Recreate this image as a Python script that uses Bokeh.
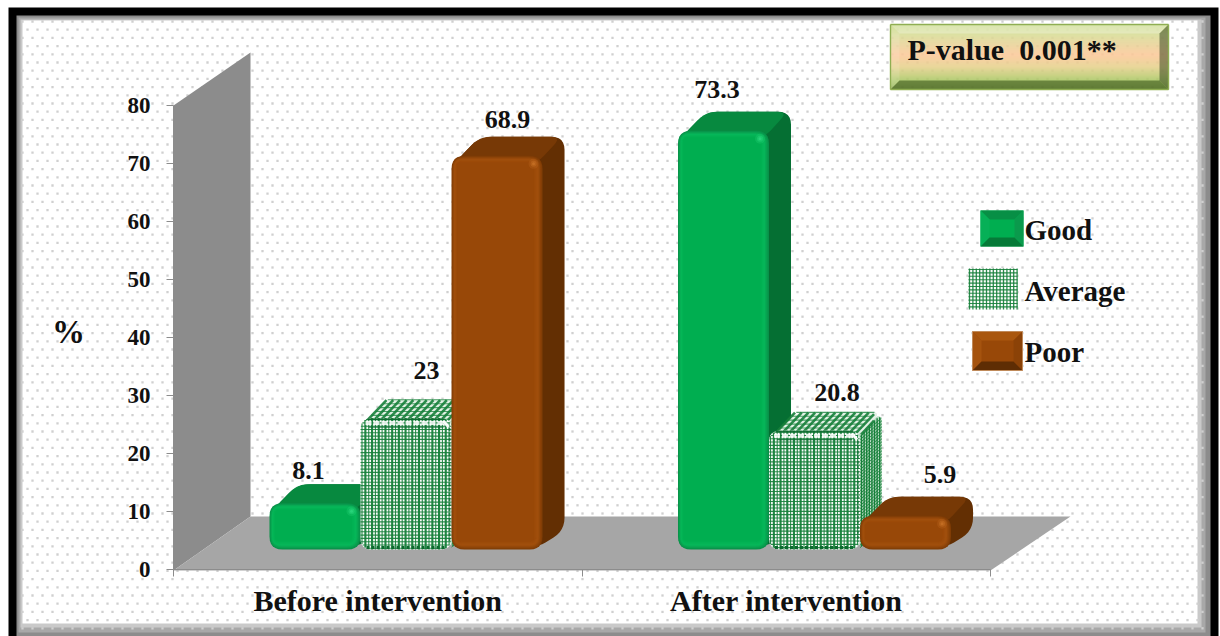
from bokeh.core.properties import value
from bokeh.embed import file_html
from bokeh.models import FixedTicker, Range1d
from bokeh.plotting import figure
from bokeh.resources import INLINE
import numpy as np

# Chart data
CATEGORIES = ["Before intervention", "After intervention"]
SERIES = ["Good", "Average", "Poor"]
GOOD = [8.1, 73.3]
AVERAGE = [23, 20.8]
POOR = [68.9, 5.9]
Y_TICKS = [0, 10, 20, 30, 40, 50, 60, 70, 80]
Y_LABEL = "%"
P_VALUE = "P-value\u00a0\u00a00.001**"

# Scale of the chart: 0 % sits on pixel row 569, each percent is 5.8 px, each category 408.5 px
W, H = 1220, 636
X0, UX = 173.0, 408.5
Y0, UY = 569.0, 5.8
FONT = value("Liberation Serif")


def X(px):
    return (np.asarray(px, dtype=float) - X0) / UX


def Y(py):
    return (Y0 - np.asarray(py, dtype=float)) / UY


def SX(x):
    return X0 + x * UX


def SY(y):
    return Y0 - y * UY


p = figure(width=W, height=H, output_backend="svg", toolbar_location=None, min_border=0,
           x_range=Range1d(float(X(0)), float(X(W))), y_range=Range1d(float(Y(H)), float(Y(0))))
p.grid.visible = False
p.outline_line_color = None
p.background_fill_color = "white"
p.border_fill_color = "white"


def poly(pts, color, alpha=1.0, line=None, lw=1.0):
    a = np.array(pts, dtype=float)
    p.patch(X(a[:, 0]), Y(a[:, 1]), fill_color=color, fill_alpha=alpha,
            line_color=line, line_width=lw)


def box(x0, y0, x1, y1, color, **kw):
    poly([(x0, y0), (x1, y0), (x1, y1), (x0, y1)], color, **kw)


def lines(segs, color, width, alpha=1.0, dash="solid"):
    if segs:
        p.multi_line([list(X([s[0], s[2]])) for s in segs], [list(Y([s[1], s[3]])) for s in segs],
                     line_color=color, line_width=width, line_alpha=alpha, line_dash=dash)


def rounded(pts, r):
    """Round each corner of a polygon with a quadratic curve."""
    a = np.array(pts, dtype=float)
    n = len(a)
    out = []
    for i in range(n):
        q, prv, nxt = a[i], a[i - 1], a[(i + 1) % n]
        d1, d2 = prv - q, nxt - q
        l1, l2 = np.hypot(*d1), np.hypot(*d2)
        rr = min(r, l1 / 2, l2 / 2)
        s, e = q + d1 / l1 * rr, q + d2 / l2 * rr
        for t in np.linspace(0, 1, 7):
            out.append((1 - t) ** 2 * s + 2 * t * (1 - t) * q + t ** 2 * e)
    return out


def mix(c1, c2, t):
    a = [int(c1[i:i + 2], 16) for i in (1, 3, 5)]
    b = [int(c2[i:i + 2], 16) for i in (1, 3, 5)]
    return "#%02x%02x%02x" % tuple(round(u + (v - u) * t) for u, v in zip(a, b))


def rrect(x0, y0, x1, y1, r):
    return rounded([(x0, y0), (x1, y0), (x1, y1), (x0, y1)], r)


# Picture frame and dotted panel
box(8, 7, 1218, 636, "#000000")
box(16, 15, 1210, 636, "#8c8c8c")
box(18, 17, 1205, 632, "#a8a8a8")
box(20, 19, 1201, 627, "#c9c9c9")
box(22, 20, 1197, 623, "#ffffff")
dot_x, dot_y = [], []
for row, yy in enumerate(np.arange(21, 630, 8.2)):
    shift = 5 if row % 2 else 0
    for xx in np.arange(22 + shift, 1204, 10):
        dot_x.append(xx)
        dot_y.append(yy)
p.scatter(X(dot_x), Y(dot_y), marker="square", size=2.3, fill_color="#d0d0d0", line_color=None)

# Wall and floor of the 3-D plot box
poly([(173, 105), (250, 52), (250, 516), (173, 570)], "#8c8c8c")
poly([(173, 570), (250, 516), (1070, 516), (990, 570)], "#a6a6a6")

# Bars
BAR_BASE = 3.45       # front of the bars stands forward of the wall, above the 0 line
BAR_SCALE = 0.985     # perspective shrink of the value scale at the bars' depth
BAR_START = 0.235
BAR_SLOT = 0.2228
DX, DY = 22, 19
PALETTE = {
    "Good": dict(edge="#0a9049", light="#07b85a", main="#00ae50", side="#056f33", top="#07893f", hi="#35e088"),
    "Poor": dict(edge="#7f3c06", light="#a2500d", main="#984808", side="#632f03", top="#773906", hi="#d27a2c"),
}
HATCH = "#16803a"


def solid_bar(x0, x1, yt, yb, c):
    r = 13
    # whole silhouette in the side colour, so the back corners share one rounded outline
    poly(rounded([(x0 + 2, yt + 8), (x0 + DX + 6, yt - DY), (x1 + DX, yt - DY), (x1 + DX, yb - DY),
                  (x1 - 8, yb), (x1 - 12, yt + 8)], 13), c["side"])
    poly(rounded([(x0 + 2, yt + 8), (x0 + DX + 6, yt - DY), (x1 + DX - 3, yt - DY),
                  (x1 - 6, yt + 8)], 11), c["top"])
    steps = 12
    for i in range(steps):
        t = i / (steps - 1)
        col = mix(c["edge"], c["light"], t * 2) if t < .5 else mix(c["light"], c["main"], t * 2 - 1)
        poly(rrect(x0 + i * .5, yt + i * .6, x1 - i * .8, yb - i * .75, max(r - i * .8, 3)), col)
    for size, al in ((10, .2), (6, .35), (3, .5)):
        p.scatter(X([x1 - 9]), Y([yt + 8]), size=size, fill_color=c["hi"], fill_alpha=al, line_color=None)


def hatch_bar(x0, x1, yt, yb):
    r = 11

    def corner_cut(d, rad=r):
        return rad - np.sqrt(max(rad * rad - (rad - d) ** 2, 0)) if d < rad else 0

    # side face, with the outer lines shortened along its rounded corners
    poly(rounded([(x1 - 8, yt + 5), (x1 + DX, yt - DY), (x1 + DX, yb - DY), (x1 - 6, yb)], 12), "#bcdcc5")
    side = []
    for k in np.arange(1.5, DX, 2.6):
        f = k / DX
        c = corner_cut(DX - k, 9)
        side.append((x1 + k, yt + 6 - (DY + 6) * f + c, x1 + k, yb - DY * f - 2 - c))
    lines(side, HATCH, 1.4)
    side = []
    for yy in np.arange(yt + 6, yb, 3.0):
        c = corner_cut(min(yy - yt, 99), 9)
        side.append((x1, yy, x1 + DX - c, min(yy - DY * (DX - c) / DX, yb - DY)))
    lines(side, HATCH, 1.0, alpha=.85)
    # top face, slanted stripes crossed by a few fine lines
    poly(rounded([(x0 + 2, yt + 7), (x0 + DX + 6, yt - DY), (x1 + DX, yt - DY), (x1 - 4, yt + 7)], 12), "#e3f1e6")
    top = []
    for k in np.arange(5, x1 - x0 + 2, 6.7):
        back_x = min(x0 + k + DX - 1, x1 + DX - 8)
        top.append((x0 + k, yt + 4, back_x, yt - DY + 1 + (x0 + k + DX - 1 - back_x)))
    lines(top, HATCH, 2.6, alpha=.9)
    top = []
    for k in np.arange(.12, 1, .17):
        top.append((x0 + 4 + (DX + 2) * k, yt + 4 - (DY + 4) * k, x1 - 4 + (DX - 3) * k, yt + 4 - (DY + 4) * k))
    lines(top, HATCH, 1.1, alpha=.75)
    # front face
    poly(rrect(x0, yt, x1, yb, r), "#f8fcf9")
    thin, bold = [], []
    for n, xx in enumerate(np.arange(x0 + 1.5, x1 - .5, 3.35)):
        c = corner_cut(min(xx - x0, x1 - xx))
        (bold if n % 2 else thin).append((xx, yt + c, xx, yb - c))
    for yy in np.arange(yt + 1.5, yb - .5, 3.3):
        c = corner_cut(min(yy - yt, yb - yy))
        thin.append((x0 + c, yy, x1 - c, yy))
    lines(thin, HATCH, 1.1, alpha=.9)
    lines(bold, HATCH, 2.1, alpha=.95)
    # glossy top band and dark lower band of the bevel
    lines([(x0 + 7, yt + 1, x1 - 7, yt + 1)], "#0d6a2f", 1.6, alpha=.9)
    lines([(x0 + 5, yt + 5, x1 - 5, yt + 5)], "#ffffff", 4.0, alpha=.85, dash="6 2")
    lines([(x0 + 8, yt + 9, x1 - 8, yt + 9)], "#0d6a2f", 1.3, alpha=.8)
    lines([(x0 + 6, yb - 2, x1 - 6, yb - 2)], "#0d6a2f", 2.8, dash="3 2")
    lines([(x1 - 2, yt + 10, x1 - 2, yb - 8)], "#0d6a2f", 1.8, alpha=.7, dash="3 2")
    lines([(x1 - 8, yt + 3, x1 - 3, yt + 9)], "#ffffff", 3.0, alpha=.95)


for g in range(len(CATEGORIES)):
    for s, (name, vals) in enumerate(zip(SERIES, (GOOD, AVERAGE, POOR))):
        x0 = SX(g + BAR_START + s * BAR_SLOT)
        x1 = SX(g + BAR_START + (s + 1) * BAR_SLOT)
        yb = SY(BAR_BASE)
        yt = SY(BAR_BASE + vals[g] * BAR_SCALE)
        if name == "Average":
            hatch_bar(x0, x1, yt, yb)
        else:
            solid_bar(x0, x1, yt, yb, PALETTE[name])

# Value labels, set from the same series with small offsets from the bar tops
label_nudge = {"Good": [(39, -33), (39, -41)], "Average": [(66, -48), (68, -38)], "Poor": [(56, -36), (80, -41)]}
for s, (name, vals) in enumerate(zip(SERIES, (GOOD, AVERAGE, POOR))):
    for g, v in enumerate(vals):
        nx, ny = label_nudge[name][g]
        lx = SX(g + BAR_START + s * BAR_SLOT) + nx
        ly = SY(BAR_BASE + v * BAR_SCALE) + ny
        p.text([float(X(lx))], [float(Y(ly))], text=[f"{v:g}"], text_font=FONT, text_font_style="bold",
               text_font_size="26px", text_color="#111111", text_align="center", text_baseline="middle")

# Axes
p.yaxis.fixed_location = 0
p.yaxis.ticker = FixedTicker(ticks=Y_TICKS)
p.yaxis.bounds = (0, 80)
p.yaxis.axis_line_color = "#8c8c8c"
p.yaxis.major_tick_line_color = "#8c8c8c"
p.yaxis.major_tick_out = 7
p.yaxis.major_tick_in = 0
p.yaxis.minor_tick_line_color = None
p.yaxis.major_label_standoff = 16
p.yaxis.major_label_text_font = "Liberation Serif"
p.yaxis.major_label_text_font_style = "bold"
p.yaxis.major_label_text_font_size = "23px"
p.yaxis.major_label_text_color = "#111111"

p.xaxis.fixed_location = 0
p.xaxis.ticker = FixedTicker(ticks=[i + .5 for i in range(len(CATEGORIES))],
                             minor_ticks=list(range(len(CATEGORIES) + 1)))
p.xaxis.bounds = (0, len(CATEGORIES))
p.xaxis.major_label_overrides = {i + .5: c for i, c in enumerate(CATEGORIES)}
p.xaxis.axis_line_color = "#8c8c8c"
p.xaxis.major_tick_line_color = None
p.xaxis.minor_tick_line_color = "#8c8c8c"
p.xaxis.minor_tick_out = 7
p.xaxis.minor_tick_in = 0
p.xaxis.major_label_standoff = 7
p.xaxis.major_label_text_font = "Liberation Serif"
p.xaxis.major_label_text_font_style = "bold"
p.xaxis.major_label_text_font_size = "30px"
p.xaxis.major_label_text_color = "#111111"

p.text([float(X(68))], [float(Y(331))], text=[Y_LABEL], text_font=FONT, text_font_style="bold",
       text_font_size="33px", text_color="#111111", text_align="center", text_baseline="middle")


def bevel(x0, y0, x1, y1, b, top, left, right, bottom):
    poly([(x0, y0), (x1, y0), (x1 - b, y0 + b), (x0 + b, y0 + b)], top[0], alpha=top[1])
    poly([(x0, y0), (x0 + b, y0 + b), (x0 + b, y1 - b), (x0, y1)], left[0], alpha=left[1])
    poly([(x1, y0), (x1 - b, y0 + b), (x1 - b, y1 - b), (x1, y1)], right[0], alpha=right[1])
    poly([(x0, y1), (x0 + b, y1 - b), (x1 - b, y1 - b), (x1, y1)], bottom[0], alpha=bottom[1])


# Legend keys with their labels
legend_boxes = {"Good": (980, 210, 1023, 246), "Average": (968, 268, 1017, 309), "Poor": (972, 331, 1022, 370)}
legend_rows = {"Good": 229, "Average": 290, "Poor": 351}
gx0, gy0, gx1, gy1 = legend_boxes["Good"]
box(gx0, gy0, gx1, gy1, "#00ae50")
bevel(gx0, gy0, gx1, gy1, 9, ("#078f45", 1), ("#06b057", 1), ("#0a9a4c", 1), ("#067a38", 1))
px0, py0, px1, py1 = legend_boxes["Poor"]
box(px0, py0, px1, py1, "#984808")
bevel(px0, py0, px1, py1, 9, ("#a9570f", 1), ("#a5530e", 1), ("#8b4207", 1), ("#5e2d04", 1))
lines([(px0, py0, px1, py0), (px1, py0, px1, py1), (px1, py1, px0, py1), (px0, py1, px0, py0)], "#c08a5a", 1.0)
ax0, ay0, ax1, ay1 = legend_boxes["Average"]
box(ax0, ay0, ax1, ay1, "#fbfdfb")
lines([(xx, ay0, xx, ay1) for xx in np.arange(ax0 + 1, ax1, 3.4)], HATCH, 1.3, alpha=.9)
lines([(ax0, yy, ax1, yy) for yy in np.arange(ay0 + 1, ay1, 3.4)], HATCH, 1.1, alpha=.9)
for name in SERIES:
    p.text([float(X(1024))], [float(Y(legend_rows[name]))], text=[name], text_font=FONT,
           text_font_style="bold", text_font_size="29px", text_color="#111111", text_baseline="middle")

# P-value plaque with its vertical colour ramp and bevelled edge
bx0, by0, bx1, by1 = 890, 24, 1168, 89
stop_y = [by0, by0 + 10, by0 + 30, by0 + 42, by1 - 9, by1]
stop_c = ["#c2d67a", "#d8dc96", "#fcc898", "#e6d18c", "#a9c764", "#8cab4e"]
for yy in np.arange(by0, by1, 1.0):
    idx = min(np.searchsorted(stop_y, yy, side="right") - 1, len(stop_y) - 2)
    t = (yy - stop_y[idx]) / (stop_y[idx + 1] - stop_y[idx])
    box(bx0, yy, bx1, yy + 1.2, mix(stop_c[idx], stop_c[idx + 1], t))
bevel(bx0, by0, bx1, by1, 9, ("#ffffff", .3), ("#ffffff", .12), ("#2a3a14", .5), ("#2f4a10", .55))
lines([(bx0, by0, bx1, by0), (bx1, by0, bx1, by1), (bx1, by1, bx0, by1), (bx0, by1, bx0, by0)], "#8fae52", 1.4)
p.text([float(X(907))], [float(Y(49))], text=[P_VALUE], text_font=FONT, text_font_style="bold",
       text_font_size="30px", text_color="#111111", text_baseline="middle")

open("out.html", "w").write(file_html(p, INLINE))
